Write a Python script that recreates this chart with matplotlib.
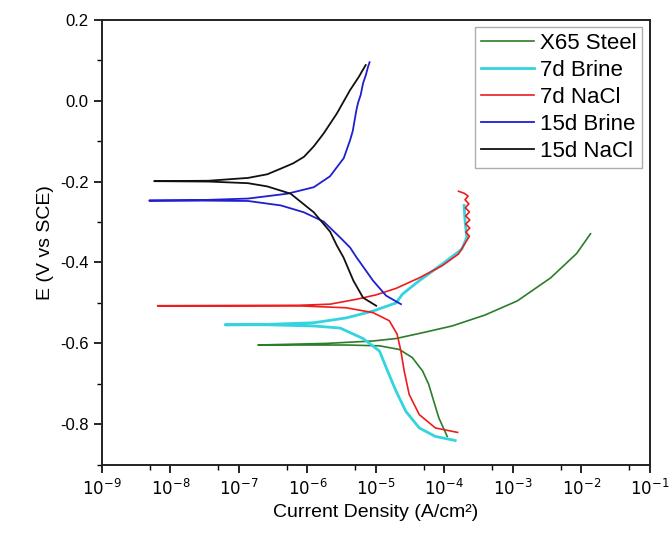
import matplotlib
matplotlib.use("Agg")
import matplotlib.pyplot as plt
from matplotlib.ticker import LogLocator, MultipleLocator, FixedFormatter, NullFormatter

plt.rcParams['font.family'] = ['Liberation Sans', 'DejaVu Sans']

# X65 Steel: cathodic end -> Ecorr -> anodic end
x65_i = [1.10e-4, 8.3e-5, 7.0e-5, 5.9e-5, 4.8e-5, 3.4e-5, 2.2e-5, 1.13e-5, 6.5e-6, 3.7e-6,
         7.1e-7, 1.9e-7,
         6.0e-7, 1.93e-6, 9.1e-6, 1.97e-5, 5.3e-5, 1.29e-4, 3.9e-4, 1.16e-3, 3.56e-3, 8.5e-3, 1.36e-2]
x65_e = [-0.830, -0.784, -0.743, -0.701, -0.668, -0.635, -0.615, -0.606, -0.605, -0.604,
         -0.604, -0.604,
         -0.602, -0.600, -0.594, -0.588, -0.572, -0.557, -0.530, -0.495, -0.438, -0.378, -0.329]

brine7_i = [1.44e-4, 7.4e-5, 4.3e-5, 2.74e-5, 1.97e-5, 1.48e-5, 1.13e-5, 6.5e-6, 3.0e-6, 1.24e-6,
            2.6e-7, 6.3e-8,
            2.6e-7, 1.24e-6, 3.7e-6, 9.1e-6, 1.97e-5, 2.45e-5, 4.3e-5, 9.3e-5, 1.80e-4, 2.12e-4,
            2.0e-4, 1.94e-4]
brine7_e = [-0.840, -0.830, -0.809, -0.768, -0.718, -0.668, -0.619, -0.588, -0.562, -0.557,
            -0.554, -0.554,
            -0.553, -0.549, -0.537, -0.520, -0.500, -0.478, -0.445, -0.404, -0.367, -0.338,
            -0.296, -0.259]

nacl7_i = [1.56e-4, 7.4e-5, 4.3e-5, 3.06e-5, 2.59e-5, 2.32e-5, 2.04e-5, 1.57e-5, 9.1e-6, 3.7e-6,
           7.1e-7, 6.5e-9,
           7.1e-7, 2.15e-6, 5.2e-6, 1.01e-5, 1.97e-5, 4.3e-5, 9.3e-5, 1.61e-4, 2.12e-4,
           2.32e-4, 2.05e-4, 2.35e-4, 2.05e-4, 2.35e-4, 2.05e-4, 2.32e-4, 2.02e-4, 2.28e-4,
           2.0e-4, 2.22e-4, 1.95e-4, 1.61e-4]
nacl7_e = [-0.820, -0.809, -0.776, -0.726, -0.668, -0.619, -0.577, -0.544, -0.524, -0.512,
           -0.507, -0.507,
           -0.506, -0.503, -0.491, -0.480, -0.464, -0.438, -0.408, -0.379, -0.346,
           -0.335, -0.325, -0.315, -0.305, -0.295, -0.285, -0.275, -0.265, -0.255,
           -0.245, -0.236, -0.229, -0.224]

brine15_i = [2.32e-5, 1.41e-5, 9.1e-6, 5.2e-6, 4.2e-6, 3.0e-6, 1.73e-6, 8.9e-7, 4.1e-7, 1.36e-7,
             2.6e-8, 4.9e-9,
             2.6e-8, 1.36e-7, 5.1e-7, 1.24e-6, 2.14e-6, 3.4e-6, 4.2e-6, 4.6e-6, 4.9e-6, 5.2e-6,
             5.5e-6, 6.0e-6, 6.5e-6, 7.1e-6, 7.7e-6, 8.1e-6]
brine15_e = [-0.503, -0.482, -0.445, -0.387, -0.363, -0.338, -0.299, -0.276, -0.259, -0.248,
             -0.247, -0.247,
             -0.246, -0.242, -0.230, -0.214, -0.187, -0.142, -0.098, -0.075, -0.048, -0.023,
             -0.005, 0.014, 0.043, 0.062, 0.084, 0.095]

nacl15_i = [1.01e-5, 6.5e-6, 4.7e-6, 3.36e-6, 2.69e-6, 2.15e-6, 1.24e-6, 5.7e-7, 2.6e-7, 1.36e-7,
            3.6e-8, 5.8e-9,
            3.6e-8, 1.36e-7, 2.6e-7, 4.1e-7, 6.2e-7, 8.9e-7, 1.24e-6, 1.73e-6, 2.69e-6, 4.2e-6,
            5.6e-6, 7.1e-6]
nacl15_e = [-0.507, -0.487, -0.445, -0.387, -0.358, -0.324, -0.276, -0.230, -0.212, -0.204,
            -0.200, -0.199,
            -0.198, -0.191, -0.182, -0.168, -0.155, -0.139, -0.113, -0.081, -0.032, 0.026,
            0.058, 0.088]

labels = ['X65 Steel', '7d Brine', '7d NaCl', '15d Brine', '15d NaCl']
colors = ['#2a7d2a', '#33d4df', '#ee1c1c', '#1f1fd0', '#111111']
widths = [1.2, 2.0, 1.2, 1.3, 1.3]
xticklabels = [r'$10^{%d}$' % k for k in range(-9, 0)]


def plot():
    fig = plt.figure(figsize=(6.7, 5.33), dpi=100)
    ax = fig.add_axes([0.152, 0.128, 0.818, 0.835])
    series = [(x65_i, x65_e), (brine7_i, brine7_e), (nacl7_i, nacl7_e),
              (brine15_i, brine15_e), (nacl15_i, nacl15_e)]
    for (i, e), lab, c, w in zip(series, labels, colors, widths):
        ax.plot(i, e, color=c, lw=w, label=lab)

    ax.set_xscale('log')
    ax.set_xlim(1e-9, 1e-1)
    ax.set_ylim(-0.9, 0.2)
    ax.set_xticks([10.0 ** k for k in range(-9, 0)])
    ax.xaxis.set_major_formatter(FixedFormatter(xticklabels))
    ax.xaxis.set_minor_locator(LogLocator(base=10, subs=[5], numticks=20))
    ax.xaxis.set_minor_formatter(NullFormatter())
    ax.yaxis.set_major_locator(MultipleLocator(0.2))
    ax.yaxis.set_minor_locator(MultipleLocator(0.1))
    ax.yaxis.set_major_formatter(plt.FuncFormatter(lambda v, p: '%.1f' % v))

    ax.tick_params(which='both', direction='out', top=False, right=False, labelsize=12)
    ax.tick_params(which='major', length=6, width=1.2)
    ax.tick_params(which='minor', length=3.5, width=1.0)
    for s in ax.spines.values():
        s.set_linewidth(1.4)
        s.set_color('#222222')

    ax.set_xlabel('Current Density (A/cm²)', fontsize=14)
    ax.set_ylabel('E (V vs SCE)', fontsize=14)

    leg = ax.legend(loc='upper right', fontsize=16, frameon=True, fancybox=False,
                    handlelength=2.4, handletextpad=0.25, labelspacing=0.27,
                    borderpad=0.25, borderaxespad=0.35)
    leg.get_frame().set_edgecolor('#999999')
    leg.get_frame().set_linewidth(1.0)
    return fig


def main():
    fig = plot()
    fig.savefig('out.png', dpi=100)


if __name__ == '__main__':
    main()
